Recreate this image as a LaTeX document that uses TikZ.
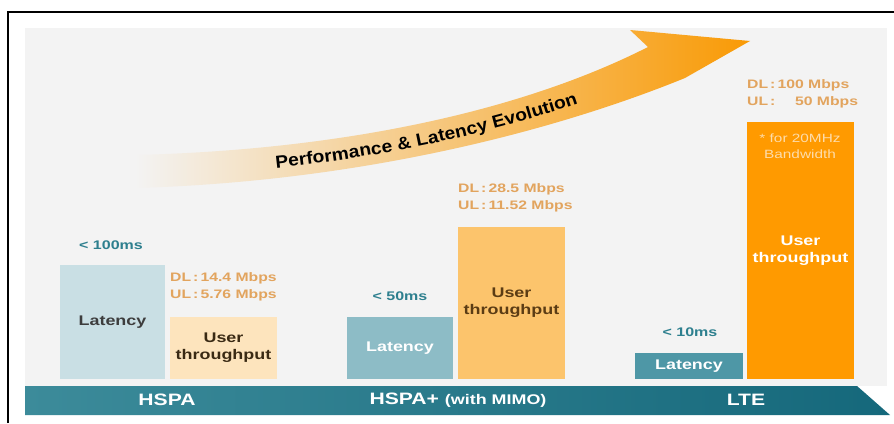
\documentclass[tikz,border=0pt]{standalone}
\usepackage{fontspec}
\setmainfont{Liberation Sans}[FakeStretch=1.28]
\newfontfamily\evofam{Liberation Sans}[FakeStretch=1.1]
\usetikzlibrary{decorations.text}

\definecolor{panelbg}{HTML}{F3F3F3}
\definecolor{latA}{HTML}{C9DFE4}
\definecolor{latB}{HTML}{8DBCC6}
\definecolor{latC}{HTML}{4E97A6}
\definecolor{tpA}{HTML}{FDE4BD}
\definecolor{tpB}{HTML}{FCC46C}
\definecolor{tpC}{HTML}{FF9A00}
\definecolor{teallbl}{HTML}{2D7F8E}
\definecolor{ratelbl}{HTML}{E2A45E}
\definecolor{notelbl}{HTML}{FDDCAA}
\definecolor{darkgray}{HTML}{3D3D3D}
\definecolor{darkbrown}{HTML}{3A2A14}
\definecolor{midbrown}{HTML}{5B3C14}
\definecolor{barL}{HTML}{3C8B9A}
\definecolor{barM}{HTML}{4596A4}
\definecolor{barR}{HTML}{15687B}
\definecolor{arrowor}{HTML}{F99A05}
\definecolor{arrowmid}{HTML}{F8C46E}

\newcommand\evofont{\evofam\fontsize{17.5}{18}\selectfont\bfseries}

\tikzset{
  bar/.style={inner sep=0pt, outer sep=0pt, anchor=north west, align=center,
              font=\fontsize{14}{17}\selectfont\bfseries},
  latlbl/.style={inner sep=0pt, text=teallbl, font=\fontsize{12.5}{14}\selectfont\bfseries},
  ratelbl/.style={inner sep=0pt, anchor=west, align=left, text=ratelbl,
                  font=\fontsize{12.3}{17}\selectfont\bfseries},
  bartxt/.style={inner sep=0pt, text=white, font=\fontsize{16.5}{18}\selectfont\bfseries},
}

\begin{document}
\begin{tikzpicture}[x=1pt, y=-1pt]
  \useasboundingbox (0,0) rectangle (894,423);
  \fill[white] (0,0) rectangle (894,423);

  % frame and panel
  \fill[panelbg] (25,28) rectangle (887,386);
  \draw[line width=2pt] (8,423) -- (8,12) -- (894,12);

  % evolution arrow
  \shade[left color=panelbg, middle color=arrowmid, right color=arrowor]
    (135,155) .. controls (340,150) and (520,112) .. (648,47)
    -- (630,30) -- (750,41) -- (685,78)
    .. controls (545,135) and (350,182) .. (135,188) -- cycle;
  \path[decorate, decoration={text along path, raise=-6.5pt,
      text align={center, left indent=44pt},
      text={|\evofont|Performance {\&} Latency Evolution}}]
    (135,171) .. controls (345,166) and (532,123) .. (666,62);

  % HSPA
  \node[bar, fill=latA, text=darkgray, minimum width=105pt, minimum height=114pt]
    (hspaLat) at (60,265) {Latency};
  \node[bar, fill=tpA, text=darkbrown, minimum width=107pt, minimum height=62pt]
    (hspaTp) at (170,317) {User\\throughput};
  \node[latlbl] (hspaLatLbl) at (111,245) {< 100ms};
  \node[ratelbl] (hspaRate) at (170,287) {DL\,:\,14.4 Mbps\\UL\,:\,5.76 Mbps};

  % HSPA+
  \node[bar, fill=latB, text=white, minimum width=106pt, minimum height=62pt]
    (hspapLat) at (347,317) {Latency};
  \node[bar, fill=tpB, text=midbrown, minimum width=107pt, minimum height=152pt]
    (hspapTp) at (458,227) {User\\throughput};
  \node[latlbl] (hspapLatLbl) at (400,296) {< 50ms};
  \node[ratelbl] (hspapRate) at (458,198) {DL\,:\,28.5 Mbps\\UL\,:\,11.52 Mbps};

  % LTE
  \node[bar, fill=latC, text=white, minimum width=108pt, minimum height=26pt]
    (lteLat) at (635,353) {Latency};
  \node[bar, fill=tpC, text=white, minimum width=107pt, minimum height=257pt]
    (lteTp) at (747,122) {User\\throughput};
  \node[latlbl] (lteLatLbl) at (690,332) {< 10ms};
  \node[ratelbl] (lteRate) at (747,94) {DL\,:\,100 Mbps\\UL\,:\,\hphantom{1}\hphantom{1}50 Mbps};
  \node[inner sep=0pt, align=center, text=notelbl, font=\fontsize{12}{16}\selectfont]
    (lteNote) at (800,146) {* for 20MHz\\Bandwidth};

  % technology band
  \shade[left color=barL, middle color=barM, right color=barR]
    (25,386) -- (857,386) -- (890,415) -- (25,415) -- cycle;
  \node[bartxt] (hspaTxt) at (167,400) {HSPA};
  \node[bartxt] (hspapTxt) at (458,400) {HSPA+ {\fontsize{14}{16}\selectfont(with MIMO)}};
  \node[bartxt] (lteTxt) at (746,400) {LTE};
\end{tikzpicture}
\end{document}
